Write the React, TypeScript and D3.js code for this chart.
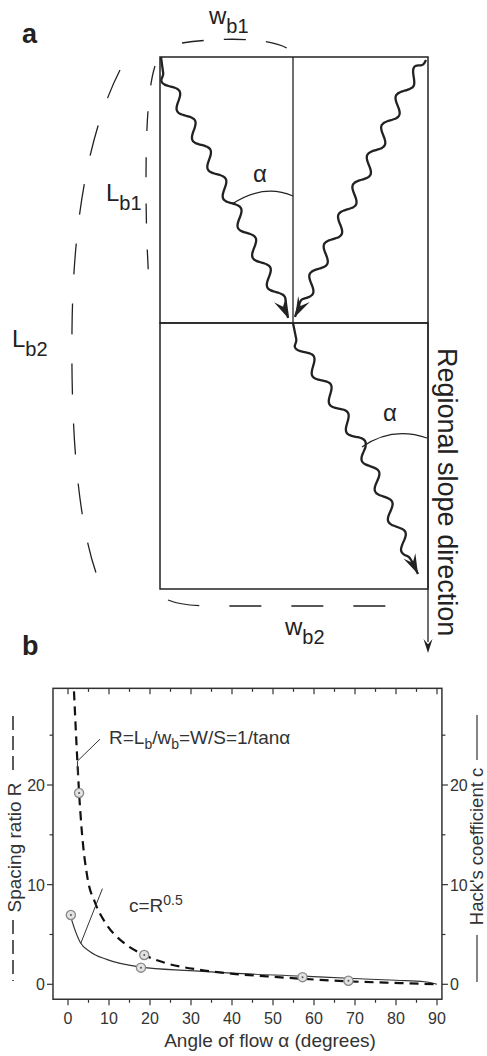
import React from "react";
import * as d3 from "d3";

// panel b data
const angleTicks = [0, 10, 20, 30, 40, 50, 60, 70, 80, 90];
const angleMinor = [5, 15, 25, 35, 45, 55, 65, 75, 85];
const ratioTicks = [0, 10, 20];
const ratioMinor = [5, 15, 25];

const spacingAngle = [1.46, 2.27, 2.68, 3.34, 4.7, 6.6, 9.4, 13.5, 18.6, 24.1, 32.2, 40.3, 48.5, 57.2, 68.4, 81, 90];
const spacingRatio = [29.4, 22.5, 19.4, 15.5, 10.8, 8.2, 6.0, 4.2, 2.94, 2.1, 1.45, 1.05, 0.8, 0.55, 0.3, 0.12, 0];

const hackAngle = [0.9, 1.7, 2.9, 5.4, 9.4, 17.8, 29.8, 39.9, 57.2, 68.4, 80, 87, 90];
const hackCoef = [6.45, 5.45, 4.27, 3.27, 2.5, 1.72, 1.37, 1.12, 0.82, 0.6, 0.4, 0.26, 0];

const markerAngle = [2.7, 18.6, 0.7, 17.8, 57.2, 68.4];
const markerValue = [19.2, 2.94, 6.95, 1.67, 0.72, 0.36];

// panel a sketch: river waypoints and arrow tips
const rivers = [
	{pts: [[161, 57], [163, 72], [232, 203], [281, 302]], tip: [288, 318]},
	{pts: [[426, 60], [424, 64], [408, 84], [303, 301]], tip: [295, 317]},
	{pts: [[293, 323], [296, 338], [362, 447], [410, 557]], tip: [418, 574]},
];

const FONT = "Liberation Sans, Arial, Helvetica, sans-serif";
const INK = "#222";

function wavyPath(pts, amp, wl) {
	// straight first leg (hook), then a sine wiggle along the rest
	let out = [pts[0], pts[1]];
	let dist = 0;
	for (let k = 1; k < pts.length - 1; k++) {
		let a = pts[k], b = pts[k + 1];
		let dx = b[0] - a[0], dy = b[1] - a[1];
		let len = Math.hypot(dx, dy);
		let ux = dx / len, uy = dy / len;
		let n = Math.ceil(len / 1.5);
		for (let i = 1; i <= n; i++) {
			let s = i / n * len;
			let total = dist + s;
			let env = Math.min(1, total / 6);
			let o = amp * Math.sin(2 * Math.PI * total / wl) * env;
			out.push([a[0] + ux * s - uy * o, a[1] + uy * s + ux * o]);
		}
		dist += len;
	}
	return out;
}

function arrowHead(from, tip, L = 20, Wd = 13) {
	let ang = Math.atan2(tip[1] - from[1], tip[0] - from[0]);
	let c = Math.cos(ang), s = Math.sin(ang);
	let p = (x, y) => [tip[0] + x * c - y * s, tip[1] + x * s + y * c];
	let pts = [p(0, 0), p(-L, -Wd / 2), p(-L * 0.62, 0), p(-L, Wd / 2)];
	return "M" + pts.map(q => q.join(",")).join("L") + "Z";
}

const Sketch = () => {
	let line = d3.line().curve(d3.curveBasis);
	return (
		<g fill="none" stroke={INK}>
			{/* boxes */}
			<rect x={160} y={57} width={268} height={266} strokeWidth={1.5} />
			<rect x={160} y={323} width={268} height={266} strokeWidth={1.5} />
			<line x1={293} y1={57} x2={293} y2={323} strokeWidth={1.3} />
			<line x1={428} y1={323} x2={428} y2={642} strokeWidth={1.3} />
			<path d={arrowHead([428, 600], [428, 653], 14, 9)} fill={INK} stroke="none" />

			{/* rivers */}
			{rivers.map((r, i) => {
				let w = wavyPath(r.pts, 5.8, 33);
				let last = r.pts[r.pts.length - 1];
				w.push(r.tip);
				return (
					<g key={i}>
						<path d={line(w)} strokeWidth={2.3} strokeLinejoin="round" />
						<path d={arrowHead(last, r.tip)} fill={INK} stroke="none" />
					</g>
				);
			})}

			{/* angles */}
			<path d="M232,204 Q263.5,183.4 293,196" strokeWidth={1.2} />
			<path d="M362,447 Q392,426 427,438" strokeWidth={1.2} />

			{/* dashed extents */}
			<path d="M182,43 C215,38 270,36 290,50" strokeWidth={1.3} strokeDasharray="22,20" />
			<path d="M155,66 C149,85 146,120 146,180 S148,260 149,287" strokeWidth={1.3} strokeDasharray="20,26" />
			<path d="M120,70 C92,125 73,210 72,330 C71,420 76,530 102,588" strokeWidth={1.3} strokeDasharray="31,29" />
			<path d="M168,600 C180,605 195,606 215,606 L387,606" strokeWidth={1.3} strokeDasharray="32,30" />

			<g fill={INK} stroke="none" fontFamily={FONT}>
				<text x={22} y={43} fontSize={27} fontWeight="bold">a</text>
				<text x={209} y={24} fontSize={24}>w<tspan fontSize={20} dy={9}>b1</tspan></text>
				<text x={106} y={201} fontSize={24}>L<tspan fontSize={20} dy={9}>b1</tspan></text>
				<text x={12} y={347} fontSize={24}>L<tspan fontSize={20} dy={9}>b2</tspan></text>
				<text x={285} y={635} fontSize={24}>w<tspan fontSize={20} dy={9}>b2</tspan></text>
				<text x={260} y={182} fontSize={24} textAnchor="middle">α</text>
				<text x={390} y={421} fontSize={24} textAnchor="middle">α</text>
				<text transform="translate(438,348) rotate(90)" fontSize={27}>Regional slope direction</text>
			</g>
		</g>
	);
};

const Chart = () => {
	let x = d3.scaleLinear().domain([0, 90]).range([68, 437]);
	let y = d3.scaleLinear().domain([0, 20]).range([984.3, 785]);
	let left = x(-3.66), right = x(91.2), top = y(29.7), bottom = y(-1.5);

	let rLine = d3.line().curve(d3.curveMonotoneX)
		.x((d, i) => x(spacingAngle[i])).y(d => y(d));
	let cLine = d3.line().curve(d3.curveMonotoneX)
		.x((d, i) => x(hackAngle[i])).y(d => y(d));

	return (
		<g fontFamily={FONT}>
			<text x={22} y={655} fontSize={27} fontWeight="bold" fill={INK}>b</text>

			<path d={cLine(hackCoef)} fill="none" stroke="#333" strokeWidth={1.1} />
			<path d={rLine(spacingRatio)} fill="none" stroke="#111" strokeWidth={2.2} strokeDasharray="9,6" />

			{markerAngle.map((a, i) => (
				<g key={i} transform={`translate(${x(a)},${y(markerValue[i])})`}>
					<circle r={4.6} fill="#e2e2e2" stroke="#8a8a8a" strokeWidth={1.3} />
					<circle r={1} fill="#555" />
				</g>
			))}

			{/* leaders */}
			<path d={`M${x(7.8)},${y(24.6)}L${x(2.3)},${y(22.4)}L${x(2.4)},${y(21.0)}`} fill="none" stroke="#333" strokeWidth={1} />
			<path d={`M${x(8.4)},${y(9.6)}L${x(3.1)},${y(4.1)}`} fill="none" stroke="#333" strokeWidth={1} />

			{/* frame */}
			<rect x={left} y={top} width={right - left} height={bottom - top} fill="none" stroke="#333" strokeWidth={1.5} />

			<g stroke="#333" strokeWidth={1.2}>
				{angleTicks.map(t => <line key={"b" + t} x1={x(t)} x2={x(t)} y1={bottom} y2={bottom + 6} />)}
				{angleMinor.map(t => <line key={"bm" + t} x1={x(t)} x2={x(t)} y1={bottom} y2={bottom + 3.5} />)}
				{angleTicks.map(t => <line key={"t" + t} x1={x(t)} x2={x(t)} y1={top} y2={top + 6} />)}
				{angleMinor.map(t => <line key={"tm" + t} x1={x(t)} x2={x(t)} y1={top} y2={top + 3.5} />)}
				{ratioTicks.map(t => <line key={"l" + t} x1={left - 6} x2={left} y1={y(t)} y2={y(t)} />)}
				{ratioMinor.map(t => <line key={"lm" + t} x1={left - 3.5} x2={left} y1={y(t)} y2={y(t)} />)}
				{ratioTicks.map(t => <line key={"r" + t} x1={right} x2={right + 6} y1={y(t)} y2={y(t)} />)}
				{ratioMinor.map(t => <line key={"rm" + t} x1={right} x2={right + 3.5} y1={y(t)} y2={y(t)} />)}
			</g>

			<g fill="#333" fontSize={16}>
				{angleTicks.map(t => <text key={t} x={x(t)} y={1024} textAnchor="middle">{t}</text>)}
				{ratioTicks.map(t => <text key={t} x={left - 8} y={y(t) + 6} textAnchor="end">{t}</text>)}
				{ratioTicks.map(t => <text key={t} x={right + 8} y={y(t) + 6}>{t}</text>)}
			</g>

			<text x={270} y={1047} fontSize={19} textAnchor="middle" fill="#333">Angle of flow α (degrees)</text>

			<text transform="translate(21,847.5) rotate(-90)" fontSize={19} textAnchor="middle" fill="#333">Spacing ratio R</text>
			<line x1={13} x2={13} y1={716} y2={776} stroke="#333" strokeWidth={1.6} strokeDasharray="14,6" />
			<line x1={13} x2={13} y1={920} y2={981} stroke="#333" strokeWidth={1.6} strokeDasharray="14,6" />

			<text transform="translate(483,846.5) rotate(-90)" fontSize={18.5} textAnchor="middle" fill="#333">Hack's coefficient c</text>
			<line x1={477} x2={477} y1={715} y2={760} stroke="#333" strokeWidth={1.2} />
			<line x1={477} x2={477} y1={935} y2={982} stroke="#333" strokeWidth={1.2} />

			<text x={109} y={744} fontSize={19} fill="#333">
				R=L<tspan fontSize={14} dy={5}>b</tspan><tspan dy={-5}>/w</tspan><tspan fontSize={14} dy={5}>b</tspan><tspan dy={-5}>=W/S=1/tanα</tspan>
			</text>
			<text x={129} y={912} fontSize={19} fill="#333">
				c=R<tspan fontSize={14} dy={-7}>0.5</tspan>
			</text>
		</g>
	);
};

export default function App() {
	return (
		<svg width={487} height={1056} style={{position: "absolute", left: 0, top: 0, background: "#fff"}}>
			<Sketch />
			<Chart />
		</svg>
	);
}
